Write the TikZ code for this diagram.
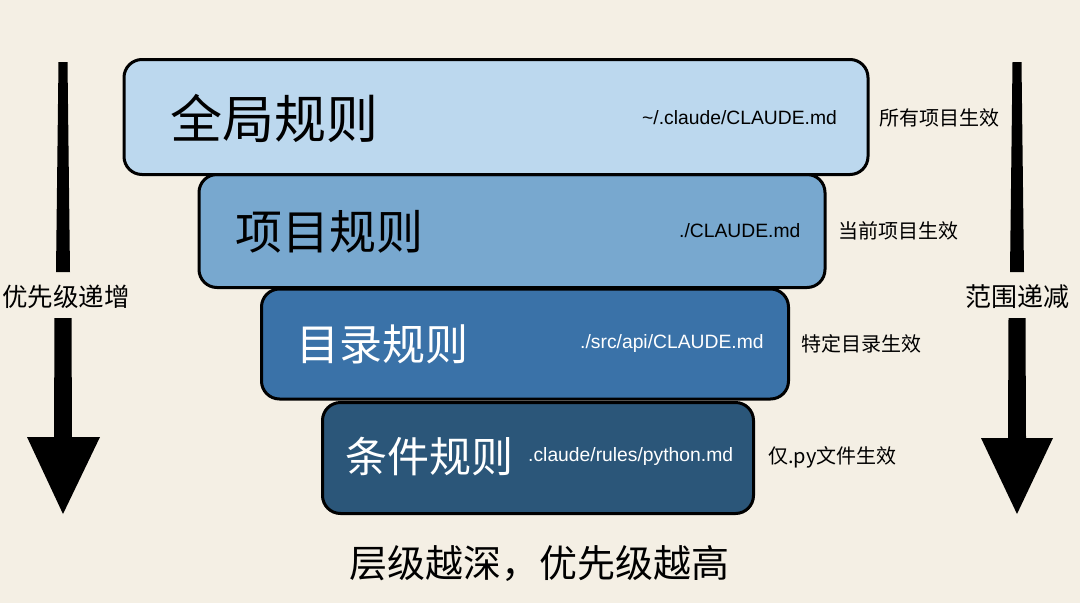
\documentclass[tikz,border=0pt]{standalone}
\usepackage{fontspec}
\setmainfont{Noto Sans CJK SC}
\newfontfamily\cjk{Noto Sans CJK SC}
\newfontfamily\lat{Liberation Sans}
\definecolor{bg}{HTML}{F4EFE4}
\definecolor{lvA}{HTML}{BCD8EE}
\definecolor{lvB}{HTML}{78A8CF}
\definecolor{lvC}{HTML}{3A72A8}
\definecolor{lvD}{HTML}{2B5679}
\tikzset{
  tier/.style={draw=black, line width=3pt, rounded corners=18pt, inner sep=0pt},
  ttl/.style={anchor=west, inner sep=0pt, font=\cjk},
  pth/.style={anchor=west, inner sep=0pt, font=\lat\fontsize{19.3}{22}\selectfont},
  side/.style={anchor=west, inner sep=0pt, font=\cjk\fontsize{20}{24}\selectfont},
  bigarrow/.style={fill=black, draw=none}
}
\begin{document}
\begin{tikzpicture}[x=1pt,y=-1pt]
\useasboundingbox (0,0) rectangle (1080,603);
\fill[bg] (0,0) rectangle (1080,603);

% tiers (bottom first so upper tiers overlap)
\node[tier, fill=lvD, minimum width=431, minimum height=111] (t4) at (538,458) {};
\node[tier, fill=lvC, minimum width=527, minimum height=110] (t3) at (525,344) {};
\node[tier, fill=lvB, minimum width=626, minimum height=113] (t2) at (512,231) {};
\node[tier, fill=lvA, minimum width=744, minimum height=115] (t1) at (496,117) {};

% titles
\node[ttl, font=\cjk\fontsize{52}{56}\selectfont, text=black] (h1) at (170,118) {全局规则};
\node[ttl, font=\cjk\fontsize{47}{52}\selectfont, text=black] (h2) at (235,232) {项目规则};
\node[ttl, font=\cjk\fontsize{43}{48}\selectfont, text=white] (h3) at (296,344) {目录规则};
\node[ttl, font=\cjk\fontsize{42}{46}\selectfont, text=white] (h4) at (345,457) {条件规则};

% paths
\node[pth, text=black] (p1) at (642,118) {\textasciitilde/.claude/CLAUDE.md};
\node[pth, text=black] (p2) at (679,231) {./CLAUDE.md};
\node[pth, text=white] (p3) at (580,344) {./src/api/CLAUDE.md};
\node[pth, text=white] (p4) at (528,457) {.claude/rules/python.md};

% side notes
\node[side] (s1) at (879,118) {所有项目生效};
\node[side] (s2) at (838,231) {当前项目生效};
\node[side] (s3) at (801,344) {特定目录生效};
\node[side] (s4) at (768,457) {仅.py文件生效};

% left arrow
\node[inner sep=0pt, font=\cjk\fontsize{25.5}{30}\selectfont] (la) at (66,297) {优先级递增};
\coordinate (ltop) at (63,62);
\coordinate (ltip) at (63,514);
\fill[bigarrow] (58.5,62) -- (67.5,62) -- (70,272) -- (56,272) -- cycle;
\fill[bigarrow] (54.5,318) -- (71.5,318) -- (72,437) -- (100,437) -- (ltip) -- (27,437) -- (54,437) -- cycle;

% right arrow
\node[inner sep=0pt, font=\cjk\fontsize{26}{30}\selectfont] (ra) at (1017,297) {范围递减};
\coordinate (rtop) at (1017,62);
\coordinate (rtip) at (1017,514);
\fill[bigarrow] (1012.5,62) -- (1021.5,62) -- (1024,272) -- (1010,272) -- cycle;
\fill[bigarrow] (1008.5,318) -- (1025.5,318) -- (1026,438) -- (1053,438) -- (rtip) -- (981,438) -- (1008,438) -- cycle;

% bottom caption
\node[inner sep=0pt, font=\cjk\fontsize{38}{42}\selectfont] (cap) at (539,564) {层级越深，优先级越高};
\end{tikzpicture}
\end{document}
